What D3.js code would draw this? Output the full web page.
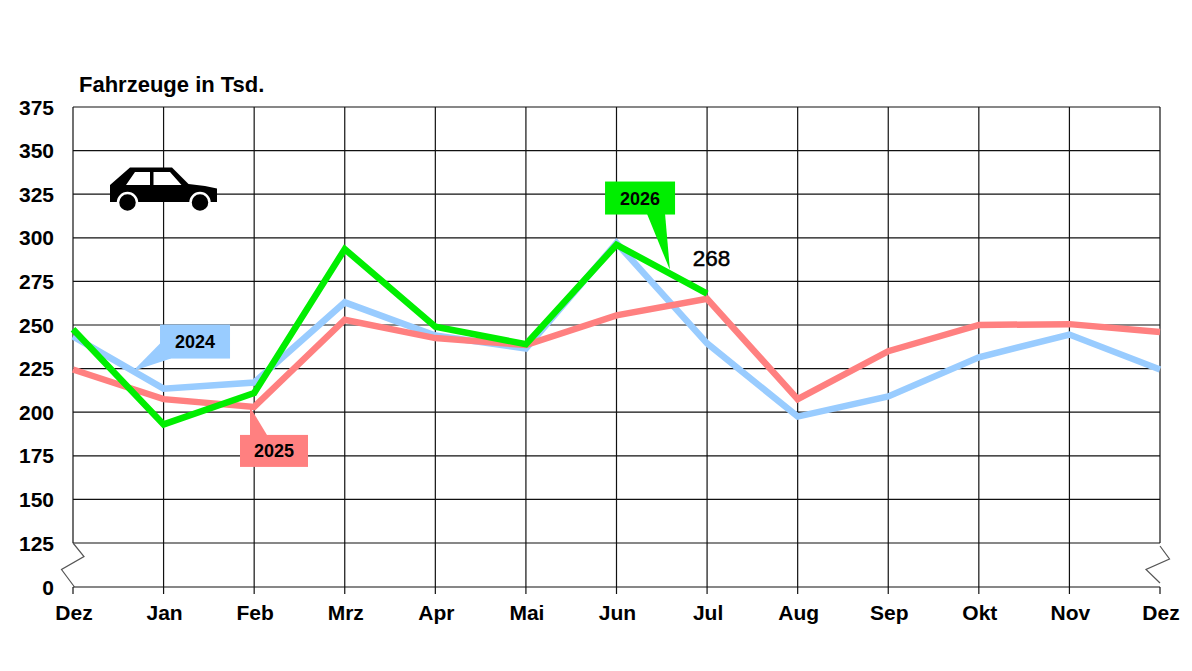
<!DOCTYPE html>
<html>
<head>
<meta charset="utf-8">
<script src="https://cdn.jsdelivr.net/npm/d3@7"></script>
<style>
  body { margin: 0; background: #fff; }
  svg { font-family: Arial, "Liberation Sans", sans-serif; }
</style>
</head>
<body>
<main></main>
<script>
// months on the x axis (Dez of previous year to Dez)
const months = ["Dez", "Jan", "Feb", "Mrz", "Apr", "Mai", "Jun", "Jul", "Aug", "Sep", "Okt", "Nov", "Dez"];
const yTicks = [0, 125, 150, 175, 200, 225, 250, 275, 300, 325, 350, 375];

// vehicles in thousands
const v2024 = [243.5, 213.5, 217, 263, 244, 236.5, 297, 239.5, 197.5, 209, 231.5, 244.5, 224.5];
const v2025 = [224.5, 207.5, 203, 253, 242.5, 238.5, 255.5, 265, 207.5, 235, 250, 250.5, 246];
const v2026 = [247.5, 193, 211, 293.5, 249, 239, 296, 268];

const width = 1192;
const height = 671;
const plotLeft = 73, plotRight = 1160, plotTop = 107;

let svg = d3.select('main')
  .append('svg')
  .attr('width', width)
  .attr('height', height);

const x = d3.scaleLinear().domain([0, months.length - 1]).range([plotLeft, plotRight]);
// broken axis: 0..125 squeezed into one grid step
const y = d3.scaleLinear().domain([0, 125, 375]).range([587, 543, plotTop]);

// horizontal grid
svg.append('g')
  .selectAll('line')
  .data(yTicks)
  .enter()
  .append('line')
  .attr('x1', plotLeft)
  .attr('x2', plotRight)
  .attr('y1', d => y(d))
  .attr('y2', d => y(d))
  .attr('stroke', '#111')
  .attr('stroke-width', 1.2);

// vertical grid (inner months) over full height
svg.append('g')
  .selectAll('line')
  .data(d3.range(1, months.length - 1))
  .enter()
  .append('line')
  .attr('x1', d => x(d))
  .attr('x2', d => x(d))
  .attr('y1', y(375))
  .attr('y2', y(0) + 7)
  .attr('stroke', '#111')
  .attr('stroke-width', 1.2);

// outer edges stop at 125, then the break marks
[0, months.length - 1].forEach(function (i) {
  svg.append('line')
    .attr('x1', x(i)).attr('x2', x(i))
    .attr('y1', y(375)).attr('y2', y(125))
    .attr('stroke', '#111').attr('stroke-width', 1.2);
  svg.append('line')
    .attr('x1', x(i)).attr('x2', x(i))
    .attr('y1', y(0)).attr('y2', y(0) + 7)
    .attr('stroke', '#111').attr('stroke-width', 1.2);
});

const zig = [[0, 0], [11, 13.5], [-11.5, 26.5], [1.5, 44]];
svg.append('path')
  .attr('d', d3.line()(zig.map(p => [x(0) + p[0], y(125) + p[1]])))
  .attr('fill', 'none').attr('stroke', '#555').attr('stroke-width', 1.2);
const zigR = [[0, 3], [9.5, 16], [-14, 26.5], [0, 40]];
svg.append('path')
  .attr('d', d3.line()(zigR.map(p => [x(12) + p[0], y(125) + p[1]])))
  .attr('fill', 'none').attr('stroke', '#555').attr('stroke-width', 1.2);

// y tick labels
svg.append('g')
  .selectAll('text')
  .data(yTicks)
  .enter()
  .append('text')
  .attr('x', 54)
  .attr('y', d => y(d))
  .attr('dy', '0.36em')
  .attr('text-anchor', 'end')
  .attr('font-weight', 'bold')
  .attr('font-size', 21)
  .text(d => d);

// x tick labels
svg.append('g')
  .selectAll('text')
  .data(months)
  .enter()
  .append('text')
  .attr('x', (d, i) => x(i) + 1)
  .attr('y', 620)
  .attr('text-anchor', 'middle')
  .attr('font-weight', 'bold')
  .attr('font-size', 21)
  .text(d => d);

svg.append('text')
  .attr('x', 79)
  .attr('y', 92)
  .attr('font-weight', 'bold')
  .attr('font-size', 22)
  .text('Fahrzeuge in Tsd.');

// series lines
const series = [
  { name: '2024', values: v2024, color: '#99ccff' },
  { name: '2025', values: v2025, color: '#ff8080' },
  { name: '2026', values: v2026, color: '#00ee00' }
];
const line = d3.line()
  .x((d, i) => x(i))
  .y(d => y(d));

svg.append('g')
  .selectAll('path')
  .data(series)
  .enter()
  .append('path')
  .attr('d', d => line(d.values))
  .attr('fill', 'none')
  .attr('stroke', d => d.color)
  .attr('stroke-width', 6.5);

// callouts: box centre and pointer tip in data units
const callouts = [
  { text: '2024', color: '#99ccff', cx: 1.347, cy: 240.5, w: 70, h: 34, tip: [0.662, 223.6], base: [[-35, 2], [-24, 17]] },
  { text: '2025', color: '#ff8080', cx: 2.219, cy: 177.8, w: 68, h: 32, tip: [1.954, 203], base: [[-24, -16], [-7, -16]] },
  { text: '2026', color: '#00ee00', cx: 6.26, cy: 322.8, w: 70, h: 33, tip: [6.59, 281.5], base: [[7, 16], [25, 16]] }
];

let co = svg.append('g')
  .selectAll('g')
  .data(callouts)
  .enter()
  .append('g');

co.append('path')
  .attr('d', function (d) {
    const cx = x(d.cx), cy = y(d.cy);
    return 'M' + (cx + d.base[0][0]) + ',' + (cy + d.base[0][1]) +
      'L' + x(d.tip[0]) + ',' + y(d.tip[1]) +
      'L' + (cx + d.base[1][0]) + ',' + (cy + d.base[1][1]) + 'Z';
  })
  .attr('fill', d => d.color);

co.append('rect')
  .attr('x', d => x(d.cx) - d.w / 2)
  .attr('y', d => y(d.cy) - d.h / 2)
  .attr('width', d => d.w)
  .attr('height', d => d.h)
  .attr('fill', d => d.color);

co.append('text')
  .attr('x', d => x(d.cx))
  .attr('y', d => y(d.cy))
  .attr('dy', '0.36em')
  .attr('text-anchor', 'middle')
  .attr('font-weight', 'bold')
  .attr('font-size', 18)
  .text(d => d.text);

// latest value label
svg.append('text')
  .attr('x', x(v2026.length - 1) + 4.5)
  .attr('y', y(288.5))
  .attr('dy', '0.36em')
  .attr('text-anchor', 'middle')
  .attr('font-size', 22.5)
  .attr('stroke', '#000')
  .attr('stroke-width', 0.5)
  .text(Math.round(v2026[v2026.length - 1]));

// car icon
let car = svg.append('g').attr('transform', 'translate(110,167)');
car.append('path')
  .attr('d', 'M0,18 L20,0.5 L62,0.5 L78.5,17 L95,19 L107,21.5 L107,35 L0,35 Z')
  .attr('fill', '#000');
car.append('path')
  .attr('d', 'M16,18 L25,5 L40,5 L40,18 Z M43.5,5 L60,5 L71.5,18 L43.5,18 Z')
  .attr('fill', '#fff');
car.selectAll('circle')
  .data([17.5, 90])
  .enter()
  .append('circle')
  .attr('cx', d => d)
  .attr('cy', 35.5)
  .attr('r', 9.5)
  .attr('fill', '#000')
  .attr('stroke', '#fff')
  .attr('stroke-width', 2.5);
</script>
</body>
</html>
